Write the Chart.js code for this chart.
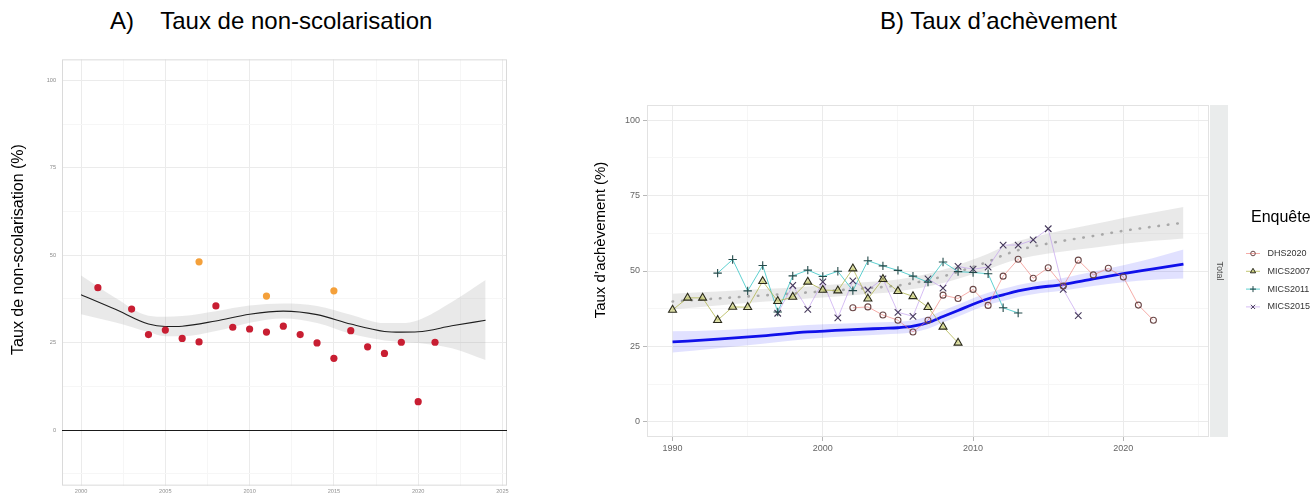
<!DOCTYPE html>
<html>
<head>
<meta charset="utf-8">
<script src="https://cdn.jsdelivr.net/npm/chart.js@4.4.1/dist/chart.umd.min.js"></script>
<style>
  body { margin: 0; background: #fff; width: 1312px; height: 495px; overflow: hidden; position: relative;
         font-family: "Liberation Sans", Arial, sans-serif; }
  .titre { position: absolute; top: 9px; font-size: 24px; line-height: 24px; white-space: pre; color: #000; }
  canvas { position: absolute; }
</style>
</head>
<body>
<div class="titre" style="left:110px">A)    Taux de non-scolarisation</div>
<div class="titre" style="left:880px">B) Taux d’achèvement</div>
<canvas id="graphA" width="520" height="445" style="left:0;top:50px"></canvas>
<canvas id="graphB" width="752" height="435" style="left:560px;top:60px"></canvas>
<script>
/* A) Taux de non-scolarisation */
const anneesRouge = [2001, 2003, 2004, 2005, 2006, 2007, 2008, 2009, 2010, 2011, 2012, 2013, 2014, 2015, 2016, 2017, 2018, 2019, 2020, 2021];
const valeursRouge = [40.7, 34.6, 27.3, 28.6, 26.2, 25.2, 35.5, 29.4, 28.9, 28.0, 29.7, 27.3, 24.9, 20.5, 28.4, 23.8, 21.9, 25.1, 8.1, 25.1];
const anneesOrange = [2007, 2011, 2015];
const valeursOrange = [48.1, 38.3, 39.8];

const anneesLissageA = [2000, 2002, 2004, 2005, 2006, 2008, 2010, 2012, 2014, 2016, 2018, 2019, 2020, 2022, 2024];
const lissageA =       [38.7, 34.6, 30.3, 29.6, 29.7, 31.2, 33.1, 34.0, 33.0, 30.3, 28.2, 28.0, 28.1, 29.8, 31.4];
const lissageAHaut =   [44.2, 37.9, 32.7, 32.4, 32.6, 34.0, 35.6, 36.2, 35.5, 33.0, 30.6, 30.6, 31.4, 36.6, 42.9];
const lissageABas =    [33.1, 30.8, 28.0, 26.8, 26.8, 28.3, 30.7, 31.9, 30.6, 27.5, 25.6, 25.2, 24.9, 23.4, 20.0];

const ticksXA = [2000, 2005, 2010, 2015, 2020, 2025];
const ticksYA = [0, 25, 50, 75, 100];
const ligneZero = 0;

/* B) Taux d'achevement */
const enquetes = ['DHS2020', 'MICS2007', 'MICS2011', 'MICS2015'];

const anneesDHS2020 = [2002, 2003, 2004, 2005, 2006, 2007, 2008, 2009, 2010, 2011, 2012, 2013, 2014, 2015, 2016, 2017, 2018, 2019, 2020, 2021, 2022];
const valeursDHS2020 = [37.8, 38.1, 35.4, 33.7, 29.8, 33.7, 42.0, 40.9, 43.9, 38.6, 48.3, 53.9, 47.6, 51.1, 45.0, 53.6, 48.7, 50.9, 48.0, 38.7, 33.7];

const anneesMICS2007 = [1990, 1991, 1992, 1993, 1994, 1995, 1996, 1997, 1998, 1999, 2000, 2001, 2002, 2003, 2004, 2005, 2006, 2007, 2008, 2009];
const valeursMICS2007 = [37.1, 41.1, 41.1, 33.7, 38.1, 38.0, 46.6, 40.0, 41.4, 46.4, 43.7, 43.5, 50.8, 40.8, 47.3, 43.3, 41.6, 38.0, 31.5, 26.2];

const anneesMICS2011 = [1993, 1994, 1995, 1996, 1997, 1998, 1999, 2000, 2001, 2002, 2003, 2004, 2005, 2006, 2007, 2008, 2009, 2010, 2011, 2012, 2013];
const valeursMICS2011 = [49.3, 53.8, 43.4, 51.8, 36.4, 48.4, 50.3, 48.2, 49.9, 43.5, 53.4, 51.7, 50.2, 48.3, 46.3, 53.0, 49.8, 49.5, 49.1, 37.8, 36.1];

const anneesMICS2015 = [1997, 1998, 1999, 2000, 2001, 2002, 2003, 2004, 2005, 2006, 2007, 2008, 2009, 2010, 2011, 2012, 2013, 2014, 2015, 2016, 2017];
const valeursMICS2015 = [36.0, 45.2, 37.3, 46.4, 34.5, 46.7, 43.7, 47.4, 36.3, 35.0, 47.4, 44.3, 51.5, 50.6, 51.3, 58.6, 58.6, 60.3, 64.0, 43.9, 35.2];

const anneesLissageBleu = [1990, 1993, 1996, 1999, 2002, 2004, 2005, 2006, 2007, 2008, 2009, 2010, 2011, 2012, 2013, 2014, 2016, 2018, 2020, 2022, 2024];
const lissageBleu =       [26.5, 27.4, 28.5, 29.8, 30.6, 31.0, 31.2, 31.7, 32.9, 34.9, 36.9, 39.0, 40.8, 42.1, 43.4, 44.3, 45.6, 47.4, 49.1, 50.7, 52.3];
const lissageBleuHaut =   [30.0, 30.4, 31.1, 32.1, 32.7, 33.0, 33.2, 33.7, 34.9, 36.9, 38.9, 41.0, 42.8, 44.1, 45.4, 46.3, 47.7, 49.8, 51.9, 54.3, 57.1];
const lissageBleuBas =    [23.0, 24.4, 25.9, 27.5, 28.5, 29.0, 29.2, 29.7, 30.9, 32.9, 34.9, 37.0, 38.8, 40.1, 41.4, 42.3, 43.5, 45.0, 46.3, 47.1, 47.5];

const anneesLissageGris = [1990, 1993, 1996, 1999, 2002, 2005, 2006, 2007, 2008, 2009, 2010, 2011, 2012, 2013, 2014, 2016, 2018, 2020, 2022, 2024];
const lissageGris =       [39.9, 40.9, 41.9, 42.9, 44.0, 45.2, 46.0, 47.0, 48.2, 49.7, 51.4, 53.1, 55.2, 56.9, 58.1, 60.0, 61.6, 63.3, 64.7, 66.0];
const lissageGrisHaut =   [42.5, 43.2, 44.0, 44.9, 46.0, 47.2, 48.0, 49.1, 50.4, 52.0, 53.8, 55.7, 58.0, 59.9, 61.2, 63.5, 65.5, 67.6, 69.4, 71.2];
const lissageGrisBas =    [37.3, 38.6, 39.8, 40.9, 42.0, 43.2, 44.0, 44.9, 46.0, 47.4, 49.0, 50.5, 52.4, 53.9, 55.0, 56.5, 57.7, 59.0, 60.0, 60.8];

const ticksXB = [1990, 2000, 2010, 2020];
const ticksYB = [0, 25, 50, 75, 100];
const facette = 'Total';


Chart.defaults.font.family = '"Liberation Sans", Arial, sans-serif';

function points(xs, ys) {
	return xs.map((x, i) => ({x: x, y: ys[i]}));
}

// graduations secondaires au milieu des principales
function avecMineurs(majeurs, pas) {
	var t = [];
	majeurs.forEach(v => { t.push(v - pas / 2); t.push(v); });
	t.push(majeurs[majeurs.length - 1] + pas / 2);
	return t;
}

function axe(majeurs, pas, min, max, taille, couleurTexte, tickLong) {
	return {
		type: 'linear', min: min, max: max, bounds: 'data',
		afterBuildTicks: s => {
			s.ticks = avecMineurs(majeurs, pas).filter(v => v >= min && v <= max).map(v => ({value: v}));
		},
		grid: {
			color: c => (c.tick && majeurs.includes(c.tick.value)) ? '#EBEBEB' : '#F6F6F6',
			lineWidth: 1,
			drawTicks: tickLong > 0,
			tickLength: tickLong,
			tickColor: c => (c.tick && majeurs.includes(c.tick.value)) ? '#B8B8B8' : 'rgba(0,0,0,0)'
		},
		border: {display: false},
		ticks: {
			autoSkip: false, maxRotation: 0, font: {size: taille}, color: couleurTexte,
			callback: v => majeurs.includes(v) ? String(v) : ''
		}
	};
}

const cadre = {
	id: 'cadre',
	beforeDatasetsDraw(chart, args, o) {
		const {ctx, chartArea: a} = chart;
		ctx.save();
		ctx.strokeStyle = o.couleur;
		ctx.lineWidth = 1;
		ctx.strokeRect(a.left + 0.5, a.top + 0.5, a.width - 1, a.height - 1);
		if (o.zero !== undefined) {
			const y = Math.round(chart.scales.y.getPixelForValue(o.zero)) + 0.5;
			ctx.strokeStyle = '#1a1a1a';
			ctx.beginPath();
			ctx.moveTo(a.left, y);
			ctx.lineTo(a.right, y);
			ctx.stroke();
		}
		ctx.restore();
	}
};

// titre de l'axe y, un peu au-dessus du centre du panneau comme dans l'original
const titreAxe = {
	id: 'titreAxe',
	afterDraw(chart, args, o) {
		const {ctx, chartArea: a} = chart;
		ctx.save();
		ctx.translate(o.x, (a.top + a.bottom) / 2 + o.decalage);
		ctx.rotate(-Math.PI / 2);
		ctx.fillStyle = '#000';
		ctx.font = o.taille + 'px "Liberation Sans", Arial, sans-serif';
		ctx.textAlign = 'center';
		ctx.textBaseline = 'middle';
		ctx.fillText(o.texte, 0, 0);
		ctx.restore();
	}
};

function marqueur(ctx, forme, x, y, r) {
	ctx.beginPath();
	if (forme === 'circle') {
		ctx.arc(x, y, r, 0, Math.PI * 2);
	} else if (forme === 'triangle') {
		ctx.moveTo(x, y - r);
		ctx.lineTo(x + r * 0.87, y + r * 0.5);
		ctx.lineTo(x - r * 0.87, y + r * 0.5);
		ctx.closePath();
	} else if (forme === 'cross') {
		ctx.moveTo(x - r, y); ctx.lineTo(x + r, y);
		ctx.moveTo(x, y - r); ctx.lineTo(x, y + r);
	} else {
		var d = r * 0.7;
		ctx.moveTo(x - d, y - d); ctx.lineTo(x + d, y + d);
		ctx.moveTo(x - d, y + d); ctx.lineTo(x + d, y - d);
	}
	ctx.fill();
	ctx.stroke();
}

const legendeEnquete = {
	id: 'legendeEnquete',
	afterDraw(chart, args, o) {
		const {ctx, chartArea: a} = chart;
		// bandeau de facette
		ctx.save();
		ctx.fillStyle = '#EAECEC';
		ctx.fillRect(a.right + 1, a.top, 18, a.height);
		ctx.translate(a.right + 10, (a.top + a.bottom) / 2);
		ctx.rotate(Math.PI / 2);
		ctx.fillStyle = '#4D4D4D';
		ctx.font = '9px "Liberation Sans", Arial, sans-serif';
		ctx.textAlign = 'center';
		ctx.textBaseline = 'middle';
		ctx.fillText(o.bandeau, 0, 0);
		ctx.restore();

		// légende
		ctx.save();
		const x0 = a.right + 42;
		ctx.fillStyle = '#000';
		ctx.font = '16px "Liberation Sans", Arial, sans-serif';
		ctx.textBaseline = 'middle';
		ctx.fillText(o.titre, x0, a.top + 113);
		ctx.font = '9px "Liberation Sans", Arial, sans-serif';
		var i = 0;
		chart.data.datasets.forEach(d => {
			if (!d.legende) return;
			const y = a.top + 148.5 + i * 17.8;
			const xm = x0 + 2;
			ctx.strokeStyle = d.borderColor;
			ctx.lineWidth = 1;
			ctx.beginPath();
			ctx.moveTo(xm - 7, y); ctx.lineTo(xm + 7, y);
			ctx.stroke();
			ctx.strokeStyle = d.pointBorderColor;
			ctx.fillStyle = d.pointBackgroundColor;
			ctx.lineWidth = 1;
			marqueur(ctx, d.pointStyle, xm, y, d.pointStyle === 'circle' ? 2.3 : 3);
			ctx.fillStyle = '#333';
			ctx.fillText(d.label, x0 + 16.5, y);
			i++;
		});
		ctx.restore();
	}
};

/* graphique A */
var axeXA = axe(ticksXA, 5, 1998.87, 2025.27, 5.6, '#8a8a8a', 0);
axeXA.afterFit = s => { s.height = 7; };
axeXA.ticks.padding = 2;
var axeYA = axe(ticksYA, 25, -15.9, 106, 5.6, '#8a8a8a', 0);
axeYA.afterFit = s => { s.width = 62; };
axeYA.ticks.padding = 6;

new Chart(document.getElementById('graphA'), {
	type: 'line',
	data: {
		datasets: [{
			data: points(anneesRouge, valeursRouge),
			showLine: false, pointRadius: 3.6, pointBorderWidth: 0,
			pointBackgroundColor: '#C81E32', pointBorderColor: '#C81E32'
		}, {
			data: points(anneesOrange, valeursOrange),
			showLine: false, pointRadius: 3.6, pointBorderWidth: 0,
			pointBackgroundColor: '#F4A03A', pointBorderColor: '#F4A03A'
		}, {
			data: points(anneesLissageA, lissageA),
			borderColor: '#1f1f1f', borderWidth: 1.1, pointRadius: 0, cubicInterpolationMode: 'monotone', fill: false
		}, {
			data: points(anneesLissageA, lissageAHaut),
			borderWidth: 0, pointRadius: 0, cubicInterpolationMode: 'monotone',
			fill: '+1', backgroundColor: 'rgba(153,153,153,0.22)'
		}, {
			data: points(anneesLissageA, lissageABas),
			borderWidth: 0, pointRadius: 0, cubicInterpolationMode: 'monotone', fill: false
		}]
	},
	options: {
		responsive: false, animation: false, events: [],
		layout: {padding: {top: 8, right: 13, left: 0, bottom: 0}},
		scales: {x: axeXA, y: axeYA},
		plugins: {
			legend: {display: false}, tooltip: {enabled: false},
			cadre: {couleur: '#DADADA', zero: ligneZero},
			titreAxe: {texte: 'Taux de non-scolarisation (%)', taille: 16, x: 18.5, decalage: -23}
		}
	},
	plugins: [cadre, titreAxe]
});

/* graphique B */
function serie(nom, annees, valeurs, ligne, forme, bord, fond, rayon) {
	return {
		label: nom, legende: true,
		data: points(annees, valeurs),
		borderColor: ligne, borderWidth: 1, tension: 0,
		pointStyle: forme, pointRadius: rayon, pointBorderWidth: 1.1,
		pointBorderColor: bord, pointBackgroundColor: fond, fill: false
	};
}

var axeXB = axe(ticksXB, 10, 1988.3, 2025.7, 9, '#666', 4);
axeXB.afterFit = s => { s.height = 58; };
axeXB.ticks.padding = 2;
var axeYB = axe(ticksYB, 25, -5, 105, 9, '#666', 4);
axeYB.afterFit = s => { s.width = 87; };
axeYB.ticks.padding = 3;

new Chart(document.getElementById('graphB'), {
	type: 'line',
	data: {
		datasets: [
			serie(enquetes[0], anneesDHS2020, valeursDHS2020, 'rgba(240,128,122,0.65)', 'circle', '#6b4848', 'rgba(0,0,0,0)', 3),
			serie(enquetes[1], anneesMICS2007, valeursMICS2007, 'rgba(172,178,70,0.75)', 'triangle', '#2b2b1c', 'rgba(196,200,100,0.55)', 4.6),
			serie(enquetes[2], anneesMICS2011, valeursMICS2011, 'rgba(40,192,192,0.75)', 'cross', '#234a4a', 'rgba(0,0,0,0)', 4.2),
			serie(enquetes[3], anneesMICS2015, valeursMICS2015, 'rgba(186,146,236,0.6)', 'crossRot', '#463a5c', 'rgba(0,0,0,0)', 4.6),
			{
				data: points(anneesLissageBleu, lissageBleu),
				borderColor: '#1010EA', borderWidth: 2.8, pointRadius: 0, cubicInterpolationMode: 'monotone', fill: false
			}, {
				data: points(anneesLissageGris, lissageGris),
				borderColor: 'rgba(165,165,165,0.95)', borderWidth: 2.6, borderDash: [0.5, 9], borderCapStyle: 'round',
				pointRadius: 0, cubicInterpolationMode: 'monotone', fill: false
			}, {
				data: points(anneesLissageBleu, lissageBleuHaut),
				borderWidth: 0, pointRadius: 0, cubicInterpolationMode: 'monotone',
				fill: '+1', backgroundColor: 'rgba(40,40,255,0.14)'
			}, {
				data: points(anneesLissageBleu, lissageBleuBas),
				borderWidth: 0, pointRadius: 0, cubicInterpolationMode: 'monotone', fill: false
			}, {
				data: points(anneesLissageGris, lissageGrisHaut),
				borderWidth: 0, pointRadius: 0, cubicInterpolationMode: 'monotone',
				fill: '+1', backgroundColor: 'rgba(153,153,153,0.22)'
			}, {
				data: points(anneesLissageGris, lissageGrisBas),
				borderWidth: 0, pointRadius: 0, cubicInterpolationMode: 'monotone', fill: false
			}
		]
	},
	options: {
		responsive: false, animation: false, events: [],
		layout: {padding: {top: 45, right: 103, left: 0, bottom: 0}},
		scales: {x: axeXB, y: axeYB},
		plugins: {
			legend: {display: false}, tooltip: {enabled: false},
			cadre: {couleur: '#E2E2E2'},
			titreAxe: {texte: 'Taux d’achèvement (%)', taille: 15, x: 41, decalage: -31},
			legendeEnquete: {titre: 'Enquête', bandeau: facette}
		}
	},
	plugins: [cadre, titreAxe, legendeEnquete]
});
</script>
</body>
</html>
